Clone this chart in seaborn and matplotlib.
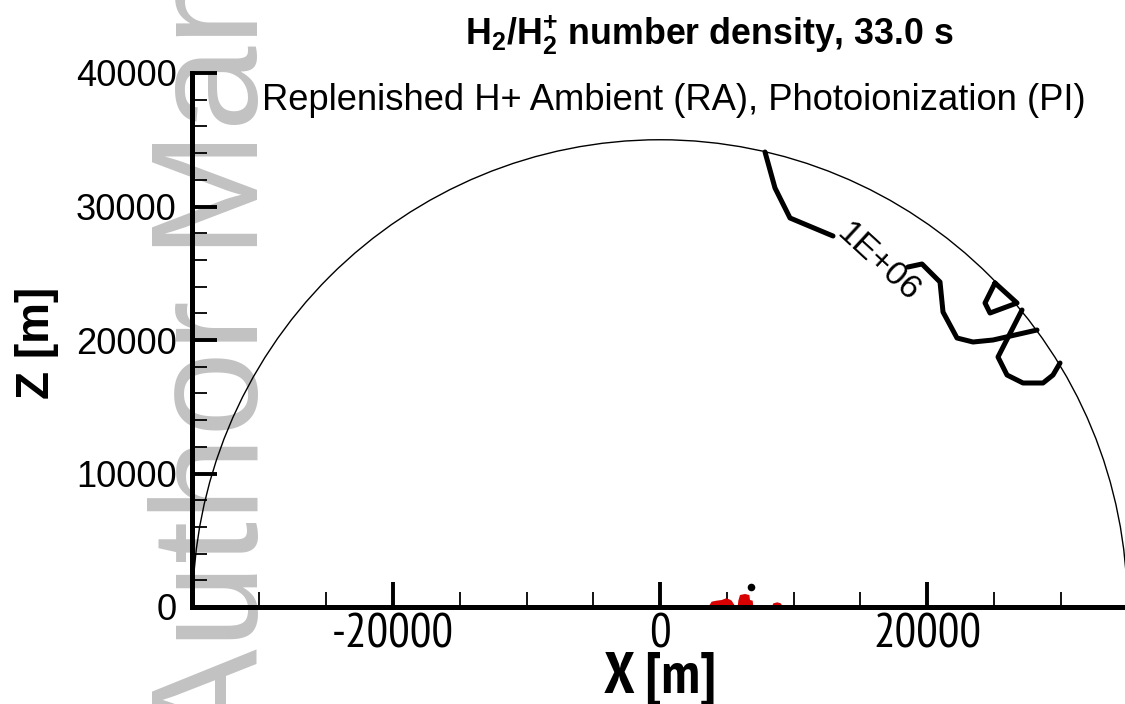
import numpy as np
import pandas as pd
import matplotlib
matplotlib.use("Agg")
import matplotlib.pyplot as plt
from matplotlib import font_manager
from matplotlib.patches import Arc
import seaborn as sns

# ---------------- data ----------------
domain_radius = 35000.0

# contour 1E+06, segment before the label
seg1_x = [7865, 8614, 9738, 12959]
seg1_y = [34082, 31386, 29139, 27790]
# segment after the label
seg2_x = [18577, 19625, 20974, 21199, 22247, 23446, 24944, 28240]
seg2_y = [25468, 25693, 24345, 22097, 20150, 19850, 20000, 20749]
# lower loop
seg3_x = [27116, 25318, 25993, 27191, 28689, 29438, 29963]
seg3_y = [22247, 18727, 17378, 16779, 16779, 17378, 18277]
# small closed triangle
seg4_x = [25094, 24345, 24719, 26742, 25094]
seg4_y = [24270, 22772, 22022, 22772, 24270]

contour_label = "1E+06"
label_pos = (16292, 25805)

# red flood patches near the ground
blob1_x = [3620, 3870, 4245, 4620, 4944, 5193, 5368, 5493, 5668]
blob1_y = [0, 400, 475, 524, 649, 574, 475, 275, 0]
blob2_x = [5818, 5868, 5993, 6367, 6691, 6742, 6941, 6991]
blob2_y = [0, 475, 899, 974, 899, 524, 475, 0]
blob3_x = [8365, 8490, 8789, 9039, 9238]
blob3_y = [0, 275, 350, 275, 0]
dot_x = [6791]
dot_y = [1473]

x_major = [-20000, 0, 20000]
y_major = [0, 10000, 20000, 30000, 40000]

title = r"H$_2$/H$_2^{+}$ number density, 33.0 s"
subtitle = "Replenished H+ Ambient (RA), Photoionization (PI)"
xlabel = "X [m]"
ylabel = "Z [m]"
watermark = "Author Manuscript"

# ---------------- style ----------------
sns.set_theme(style="ticks")
plt.rcParams["font.family"] = ["Liberation Sans", "DejaVu Sans"]
plt.rcParams["text.color"] = "black"
plt.rcParams["xtick.color"] = "black"
plt.rcParams["ytick.color"] = "black"
plt.rcParams["mathtext.fontset"] = "custom"
plt.rcParams["mathtext.rm"] = "Liberation Sans:bold"
plt.rcParams["mathtext.it"] = "Liberation Sans:bold"
plt.rcParams["mathtext.bf"] = "Liberation Sans:bold"

# pick a narrow/condensed sans family that has static regular + bold
weights = {}
for f in font_manager.fontManager.ttflist:
    if "[" in f.fname:
        continue
    weights.setdefault(f.name, set()).add(f.weight)
NARROW = "Liberation Sans"
for cand in ["Liberation Sans Narrow", "Arial Narrow", "PT Sans Narrow", "Roboto Condensed",
             "Archivo Narrow", "IBM Plex Sans Condensed", "Fira Sans Condensed",
             "Barlow Semi Condensed", "Asap Condensed"]:
    w = weights.get(cand, set())
    if 400 in w and 700 in w:
        NARROW = cand
        break

W, H = 1125, 704
fig = plt.figure(figsize=(W / 100, H / 100), dpi=100)
fig.patch.set_facecolor("white")
renderer = fig.canvas.get_renderer()


def fit_size(s, target_w, base=20, **kw):
    t = fig.text(0, 0, s, fontsize=base, **kw)
    w = t.get_window_extent(renderer).width
    t.remove()
    return base * target_w / w


# watermark (behind everything)
fig.text(258 / W, 1 - 750 / H, watermark, rotation=90, rotation_mode="anchor",
         ha="left", va="baseline", fontsize=110, color="#c2c2c2",
         family=["Liberation Sans"], zorder=-5)

ax = fig.add_axes([192 / W, 1 - 607 / H, (W - 192) / W, 534 / H])
ax.patch.set_facecolor("none")
ax.set_xlim(-35056, 34831)
ax.set_ylim(0, 40000)

# domain boundary
ax.add_patch(Arc((0, 0), 2 * domain_radius, 2 * domain_radius, theta1=0, theta2=180,
                 color="black", lw=1.0, zorder=2))

# red flood
for bx, by in [(blob1_x, blob1_y), (blob2_x, blob2_y), (blob3_x, blob3_y)]:
    ax.fill(bx, by, color="#d80000", lw=0, zorder=2)
sns.scatterplot(x=dot_x, y=dot_y, color="black", s=30, ax=ax, zorder=3, linewidth=0)

# contour lines
for sx, sy in [(seg1_x, seg1_y), (seg2_x, seg2_y), (seg3_x, seg3_y), (seg4_x, seg4_y)]:
    df = pd.DataFrame({"x": sx, "y": sy})
    sns.lineplot(data=df, x="x", y="y", sort=False, estimator=None, color="black",
                 lw=3.6, ax=ax, zorder=3)
lab_fs = fit_size(contour_label, 100)
ax.text(label_pos[0], label_pos[1], contour_label, rotation=-42.6, rotation_mode="anchor",
        ha="center", va="center", fontsize=lab_fs, color="black", zorder=4)

# axes styling
for s in ["top", "right"]:
    ax.spines[s].set_visible(False)
for s in ["left", "bottom"]:
    ax.spines[s].set_linewidth(3.6)
    ax.spines[s].set_color("black")
    ax.spines[s].set_zorder(5)

xt_fs = fit_size("20000", 107, family=[NARROW])
yt_fs = fit_size("40000", 101)
ax.set_xticks(x_major)
ax.set_xticklabels([str(v) for v in x_major], family=NARROW, fontsize=xt_fs)
ax.set_xticks(np.arange(-30000, 35000, 5000), minor=True)
ax.set_yticks(y_major)
ax.set_yticklabels([str(v) for v in y_major], fontsize=yt_fs)
ax.set_yticks(np.arange(0, 40001, 2000), minor=True)
ax.tick_params(which="major", direction="in", length=18, width=2.8, color="black", pad=5)
ax.tick_params(axis="y", which="major", pad=11)
ax.tick_params(which="minor", direction="in", length=11, width=1.3, color="black")
ax.set_xlabel("")
ax.set_ylabel("")

xl_fs = fit_size(xlabel, 112, fontweight="bold", family=[NARROW])
fig.text(660 / W, 1 - 693 / H, xlabel, ha="center", va="baseline", fontsize=xl_fs,
         fontweight="bold", family=[NARROW])
yl_fs = fit_size(ylabel, 112, fontweight="bold")
fig.text(37 / W, 1 - 343 / H, ylabel, ha="center", va="center", rotation=90,
         fontsize=yl_fs, fontweight="bold")
ti_fs = fit_size(title, 488, fontweight="bold")
fig.text(709 / W, 1 - 45 / H, title, ha="center", va="baseline", fontsize=ti_fs,
         fontweight="bold")
st_fs = fit_size(subtitle, 822)
fig.text(674 / W, 1 - 110 / H, subtitle, ha="center", va="baseline", fontsize=st_fs)

fig.savefig("out.png", dpi=100, facecolor="white")
